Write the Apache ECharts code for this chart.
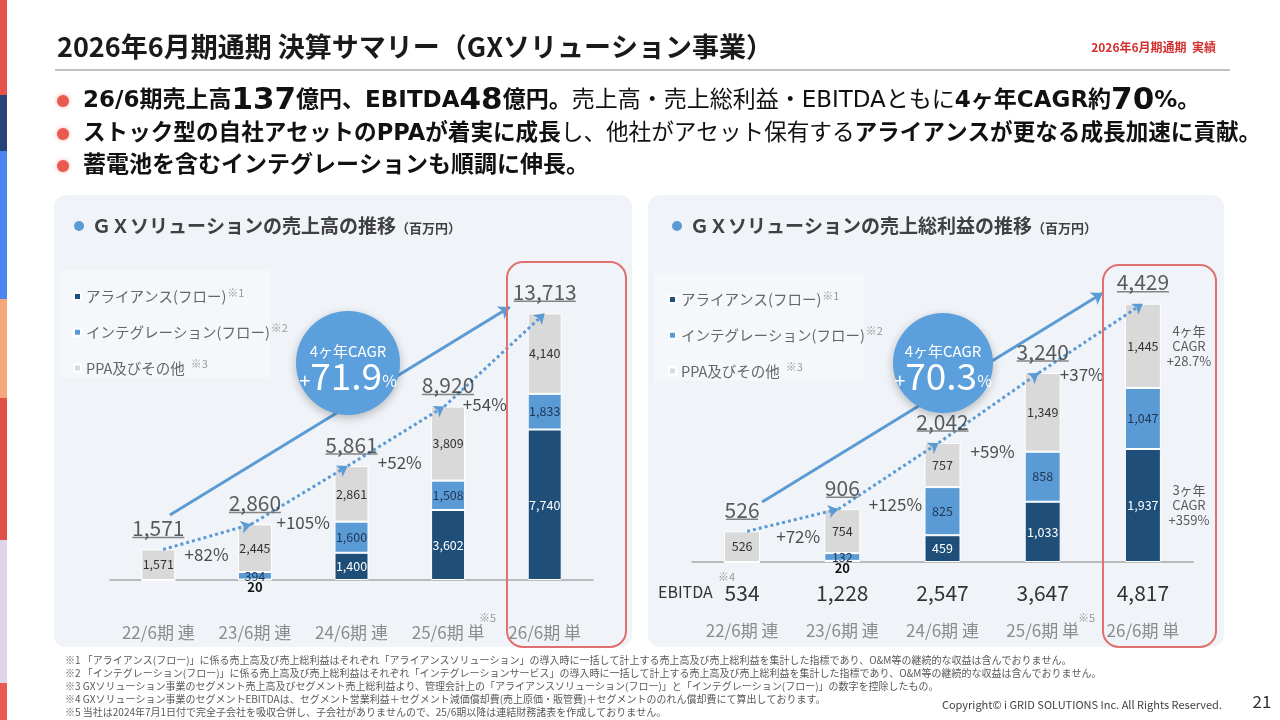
<!DOCTYPE html>
<html>
<head>
<meta charset="utf-8">
<script src="https://cdn.jsdelivr.net/npm/echarts@6/dist/echarts.min.js"></script>
<style>
html, body { margin: 0; padding: 0; background: #fff; }
#main { width: 1280px; height: 720px; }
</style>
</head>
<body>
<div id="main"></div>
<script>
// 期
var categories = ['22/6期 連', '23/6期 連', '24/6期 連', '25/6期 単', '26/6期 単'];
var seriesNames = ['アライアンス(フロー)', 'インテグレーション(フロー)', 'PPA及びその他'];
var seriesNotes = ['※1', '※2', '  ※3'];

// 売上高（百万円）
var salesAlliance = [0, 20, 1400, 3602, 7740];
var salesIntegration = [0, 394, 1600, 1508, 1833];
var salesPPA = [1571, 2445, 2861, 3809, 4140];
var salesTotal = [1571, 2860, 5861, 8920, 13713];

// 売上総利益（百万円）
var gpAlliance = [0, 20, 459, 1033, 1937];
var gpIntegration = [0, 132, 825, 858, 1047];
var gpPPA = [526, 754, 757, 1349, 1445];
var gpTotal = [526, 906, 2042, 3240, 4429];

// EBITDA
var ebitda = [534, 1228, 2547, 3647, 4817];

// 注記の置き場所（値軸上の位置）
var growthPosL = [[0.5, 1290], [1.5, 2980], [2.5, 6020], [3.38, 9000]];
var growthPosR = [[0.56, 430], [1.53, 980], [2.5, 1885], [3.39, 3220]];
var arrowL = [[0.12, 3340], [3.64, 14040]];
var arrowR = [[0.2, 1030], [3.6, 4610]];

var FONT = '"Noto Sans CJK JP", "Noto Sans", sans-serif';
var WIDE = '"DejaVu Sans", "Noto Sans CJK JP", sans-serif';
var C_ALL = '#1F4E79', C_INT = '#5B9BD5', C_PPA = '#D9D9D9', C_ARROW = '#5B9BD5';

function fmt(v) { return v.toLocaleString('en-US'); }

function buildSeries(gi, xCat, xVal, yIdx, alliance, integ, ppa, totals, growthPos, arrow, barW, cagrX) {
    var stack = 'st' + gi;
    var n = totals.length - 1;
    var list = [];

    var allianceData = alliance.map(function (v) {
        if (v > 0 && v < 100) {
            return { value: v, label: { position: 'bottom', distance: 0, color: '#111', fontWeight: 'bold', fontSize: 13 } };
        }
        return v;
    });
    var segs = [
        [seriesNames[0], allianceData, C_ALL, '#fff'],
        [seriesNames[1], integ, C_INT, '#1F3550'],
        [seriesNames[2], ppa, C_PPA, '#333']
    ];
    segs.forEach(function (s) {
        list.push({
            name: s[0], type: 'bar', stack: stack,
            xAxisIndex: xCat, yAxisIndex: yIdx,
            barWidth: barW,
            data: s[1],
            itemStyle: { color: s[2], borderColor: '#fff', borderWidth: 1 },
            label: {
                show: true, position: 'inside', color: s[3],
                fontSize: 12.5, fontFamily: FONT,
                formatter: function (p) { return p.value ? fmt(p.value) : ''; }
            },
            z: 2
        });
    });

    // 合計（下線つき）
    list.push({
        type: 'scatter', xAxisIndex: xCat, yAxisIndex: yIdx,
        data: totals,
        symbol: 'rect',
        symbolSize: function (v) { return [fmt(v).length * 10 + 2, 1.5]; },
        symbolOffset: [0, -12],
        itemStyle: { color: '#666' },
        label: {
            show: true, position: 'top', distance: -2,
            formatter: function (p) { return fmt(p.value); },
            fontSize: 21, color: '#333', fontFamily: FONT
        },
        silent: true, z: 5
    });

    // 前年比
    list.push({
        type: 'scatter', xAxisIndex: xVal, yAxisIndex: yIdx,
        data: growthPos.map(function (pos, i) {
            return { value: pos, t: '+' + Math.round((totals[i + 1] / totals[i] - 1) * 100) + '%' };
        }),
        symbolSize: 1, itemStyle: { color: 'rgba(0,0,0,0)' },
        label: {
            show: true, position: 'inside',
            formatter: function (p) { return p.data.t; },
            fontSize: 17, color: '#222', fontFamily: FONT
        },
        silent: true, z: 6
    });

    // 実線の矢印
    list.push({
        type: 'lines', coordinateSystem: 'cartesian2d', xAxisIndex: xVal, yAxisIndex: yIdx,
        symbol: ['none', 'arrow'], symbolSize: 11,
        lineStyle: { color: C_ARROW, width: 3, opacity: 1 },
        data: [{ coords: arrow }],
        silent: true, z: 4
    });

    // 点線の矢印
    var dots = [];
    for (var i = 0; i < n; i++) {
        var x0 = i === 0 ? 0.05 : i - 0.04;
        var x1 = i + 1 === n ? n : i + 1 - 0.04;
        dots.push({ coords: [[x0, totals[i]], [x1, totals[i + 1]]] });
    }
    list.push({
        type: 'lines', coordinateSystem: 'cartesian2d', xAxisIndex: xVal, yAxisIndex: yIdx,
        symbol: ['none', 'arrow'], symbolSize: 10,
        lineStyle: { color: C_ARROW, width: 3, type: [3, 3], opacity: 1 },
        data: dots,
        silent: true, z: 4
    });

    // CAGR（最終期の右側）
    var cagr4 = ((Math.pow(ppa[n] / ppa[0], 1 / 4) - 1) * 100).toFixed(1);
    var cagr3 = ((Math.pow(alliance[n] / alliance[1], 1 / 3) - 1) * 100).toFixed(0);
    list.push({
        type: 'scatter', xAxisIndex: xVal, yAxisIndex: yIdx,
        data: [
            { value: [cagrX, alliance[n] + integ[n] + ppa[n] / 2], t: '4ヶ年\nCAGR\n+' + cagr4 + '%' },
            { value: [cagrX, alliance[n] / 2], t: '3ヶ年\nCAGR\n+' + cagr3 + '%' }
        ],
        symbolSize: 1, itemStyle: { color: 'rgba(0,0,0,0)' },
        label: {
            show: true, position: 'inside', align: 'center',
            formatter: function (p) { return p.data.t; },
            fontSize: 13, lineHeight: 15, color: '#333', fontFamily: FONT
        },
        silent: true, z: 6
    });
    return list;
}

function bubble(cx, cy, r, totals) {
    var n = totals.length - 1;
    var c = ((Math.pow(totals[n] / totals[0], 1 / n) - 1) * 100).toFixed(1);
    return {
        type: 'group', x: cx, y: cy, z: 100,
        children: [
            { type: 'circle', z: 100, shape: { cx: 0, cy: 0, r: r },
              style: { fill: '#5B9FDC', shadowBlur: 10, shadowOffsetY: 3, shadowColor: 'rgba(0,0,0,0.25)' } },
            { type: 'text', z: 101, x: 0, y: -12,
              style: { text: '4ヶ年CAGR', fill: '#fff', font: '15px ' + FONT, align: 'center', verticalAlign: 'middle' } },
            { type: 'text', z: 101, x: 0, y: 13,
              style: {
                  text: '{p|+}{v|' + c + '}{s|%}', align: 'center', verticalAlign: 'middle',
                  rich: {
                      p: { fill: '#fff', fontSize: 20, fontFamily: FONT, padding: [8, 0, 0, 0] },
                      v: { fill: '#fff', fontSize: 37, fontFamily: FONT },
                      s: { fill: '#fff', fontSize: 16, fontFamily: FONT, padding: [10, 0, 0, 0] }
                  }
              } }
        ]
    };
}

function txt(x, y, text, font, fill, extra) {
    var s = { text: text, font: font + ' ' + FONT, fill: fill, verticalAlign: 'middle' };
    if (extra) for (var k in extra) s[k] = extra[k];
    return { type: 'text', x: x, y: y, style: s, z: 20 };
}

var stripes = [[0, 95, '#E5534B'], [95, 151, '#264478'], [151, 299, '#4A86F0'], [299, 398, '#F4A77A'],
               [398, 540, '#E05048'], [540, 683, '#E0D4E8'], [683, 720, '#E85A4F']];

var graphics = [];
stripes.forEach(function (s) {
    graphics.push({ type: 'rect', shape: { x: 0, y: s[0], width: 7, height: s[1] - s[0] }, style: { fill: s[2] }, z: 0 });
});

// ヘッダ
graphics.push(txt(57, 47, '2026年6月期通期 決算サマリー（GXソリューション事業）', 'bold 27px', '#1a1a1a'));
graphics.push(txt(1216, 47, '2026年6月期通期  実績', 'bold 12px', '#D32F2F', { align: 'right' }));
graphics.push({ type: 'rect', shape: { x: 55, y: 69, width: 1175, height: 2 }, style: { fill: '#C0C0C0' }, z: 0 });

var bulletRich = {
    b: { fontSize: 23, fontWeight: 'bold', fontFamily: WIDE, fill: '#111' },
    g: { fontSize: 31, fontWeight: 'bold', fontFamily: WIDE, fill: '#111' },
    n: { fontSize: 23, fontFamily: WIDE, fill: '#111' },
    c: { fontSize: 22.6, fontWeight: 'bold', fontFamily: WIDE, fill: '#111' },
    m: { fontSize: 22.6, fontFamily: WIDE, fill: '#111' }
};
var bullets = [
    '{b|26/6期売上高}{g|137}{b|億円、EBITDA}{g|48}{b|億円。}{n|売上高・売上総利益・EBITDAともに}{b|4ヶ年CAGR約}{g|70}{b|%。}',
    '{c|ストック型の自社アセットのPPAが着実に成長}{m|し、他社がアセット保有する}{c|アライアンスが更なる成長加速に貢献。}',
    '{b|蓄電池を含むインテグレーションも順調に伸長。}'
];
[101, 134, 166].forEach(function (y, i) {
    graphics.push({ type: 'circle', shape: { cx: 63, cy: y, r: 6 },
        style: { fill: '#E85A4F', shadowBlur: 4, shadowColor: 'rgba(232,90,79,0.5)' }, z: 20 });
    graphics.push({ type: 'text', x: 83, y: y, z: 20,
        style: { text: bullets[i], rich: bulletRich, verticalAlign: 'middle' } });
});

// パネル
graphics.push({ type: 'rect', shape: { x: 54, y: 195, width: 578, height: 452, r: 12 }, style: { fill: '#F0F4F8' }, z: 0 });
graphics.push({ type: 'rect', shape: { x: 648, y: 195, width: 576, height: 452, r: 12 }, style: { fill: '#F0F4F8' }, z: 0 });
graphics.push({ type: 'rect', shape: { x: 60, y: 270, width: 210, height: 108 }, style: { fill: 'rgba(255,255,255,0.35)' }, z: 0 });
graphics.push({ type: 'rect', shape: { x: 654, y: 273, width: 210, height: 108 }, style: { fill: 'rgba(255,255,255,0.35)' }, z: 0 });

var titleRich = {
    t: { fontSize: 19, fontWeight: 'bold', fontFamily: FONT, fill: '#404040' },
    u: { fontSize: 13, fontWeight: 'bold', fontFamily: FONT, fill: '#404040', padding: [4, 0, 0, 0] }
};
graphics.push({ type: 'circle', shape: { cx: 79, cy: 226, r: 5 }, style: { fill: '#5B9BD5' }, z: 20 });
graphics.push({ type: 'text', x: 92, y: 226, z: 20,
    style: { text: '{t|ＧＸソリューションの売上高の推移}{u|（百万円）}', rich: titleRich, verticalAlign: 'middle' } });
graphics.push({ type: 'circle', shape: { cx: 677, cy: 226, r: 5 }, style: { fill: '#5B9BD5' }, z: 20 });
graphics.push({ type: 'text', x: 690, y: 226, z: 20,
    style: { text: '{t|ＧＸソリューションの売上総利益の推移}{u|（百万円）}', rich: titleRich, verticalAlign: 'middle' } });

graphics.push(bubble(348, 363, 52, salesTotal));
graphics.push(bubble(943, 363, 50, gpTotal));

graphics.push({ type: 'rect', shape: { x: 507, y: 262, width: 119, height: 385, r: 16 },
    style: { fill: 'none', stroke: '#E07070', lineWidth: 2 }, z: 30 });
graphics.push({ type: 'rect', shape: { x: 1103, y: 265, width: 113, height: 382, r: 16 },
    style: { fill: 'none', stroke: '#E07070', lineWidth: 2 }, z: 30 });

graphics.push(txt(479, 618, '※5', '11px', '#999'));
graphics.push(txt(1078, 618, '※5', '11px', '#999'));
graphics.push(txt(658, 592, 'EBITDA', '16px', '#333'));
graphics.push(txt(718, 577, '※4', '11px', '#999'));

var notes = [
    '※1 「アライアンス(フロー)」に係る売上高及び売上総利益はそれぞれ「アライアンスソリューション」の導入時に一括して計上する売上高及び売上総利益を集計した指標であり、O&M等の継続的な収益は含んでおりません。',
    '※2 「インテグレーション(フロー)」に係る売上高及び売上総利益はそれぞれ「インテグレーションサービス」の導入時に一括して計上する売上高及び売上総利益を集計した指標であり、O&M等の継続的な収益は含んでおりません。',
    '※3 GXソリューション事業のセグメント売上高及びセグメント売上総利益より、管理会計上の「アライアンスソリューション(フロー)」と「インテグレーション(フロー)」の数字を控除したもの。',
    '※4 GXソリューション事業のセグメントEBITDAは、セグメント営業利益＋セグメント減価償却費(売上原価・販管費)＋セグメントののれん償却費にて算出しております。',
    '※5 当社は2024年7月1日付で完全子会社を吸収合併し、子会社がありませんので、25/6期以降は連結財務諸表を作成しておりません。'
];
notes.forEach(function (t, i) {
    graphics.push(txt(65, 660 + i * 13, t, '10px', '#595959'));
});
graphics.push(txt(1222, 705, 'Copyright© i GRID SOLUTIONS Inc. All Rights Reserved.', '11px', '#404040', { align: 'right' }));
graphics.push(txt(1262, 702, '21', '17px', '#333', { align: 'center' }));

var legendBase = {
    orient: 'vertical', icon: 'rect', itemWidth: 7, itemHeight: 7, itemGap: 19,
    selectedMode: false, data: seriesNames,
    formatter: function (name) { return name + '{s|' + seriesNotes[seriesNames.indexOf(name)] + '}'; },
    textStyle: {
        color: '#666', fontSize: 14.5, fontFamily: FONT,
        rich: { s: { fontSize: 11, color: '#999', fontFamily: FONT, padding: [0, 0, 8, 1] } }
    }
};

var series = []
    .concat(buildSeries(0, 0, 1, 0, salesAlliance, salesIntegration, salesPPA, salesTotal, growthPosL, arrowL, 34, 4.55))
    .concat(buildSeries(1, 2, 3, 1, gpAlliance, gpIntegration, gpPPA, gpTotal, growthPosR, arrowR, 36, 4.46));

var myChart = echarts.init(document.getElementById('main'));
var option = {
    animation: false,
    backgroundColor: '#fff',
    textStyle: { fontFamily: FONT },
    graphic: graphics,
    legend: [
        Object.assign({}, legendBase, { left: 68, top: 282 }),
        Object.assign({}, legendBase, { left: 663, top: 285 })
    ],
    grid: [
        { left: 110, top: 300, width: 483, height: 280 },
        { left: 692, top: 282, width: 501, height: 280 }
    ],
    xAxis: [
        { type: 'category', gridIndex: 0, data: categories,
          axisLine: { lineStyle: { color: '#A6A6A6', width: 1.5 } }, axisTick: { show: false },
          axisLabel: { margin: 44, fontSize: 17, color: '#8C8C8C', fontFamily: FONT } },
        { type: 'value', gridIndex: 0, min: -0.5, max: 4.5, show: false },
        { type: 'category', gridIndex: 1, data: categories,
          axisLine: { lineStyle: { color: '#A6A6A6', width: 1.5 } }, axisTick: { show: false },
          axisLabel: {
              margin: 5, fontFamily: FONT,
              formatter: function (v, i) { return '{e|' + fmt(ebitda[i]) + '}\n{c|' + v + '}'; },
              rich: {
                  e: { fontSize: 21, color: '#333', lineHeight: 52, fontFamily: FONT },
                  c: { fontSize: 17, color: '#8C8C8C', lineHeight: 24, fontFamily: FONT }
              }
          } },
        { type: 'value', gridIndex: 1, min: -0.5, max: 4.5, show: false }
    ],
    yAxis: [
        { type: 'value', gridIndex: 0, min: 0, max: 14400, show: false },
        { type: 'value', gridIndex: 1, min: 0, max: 4800, show: false }
    ],
    series: series
};
myChart.setOption(option);
</script>
</body>
</html>
